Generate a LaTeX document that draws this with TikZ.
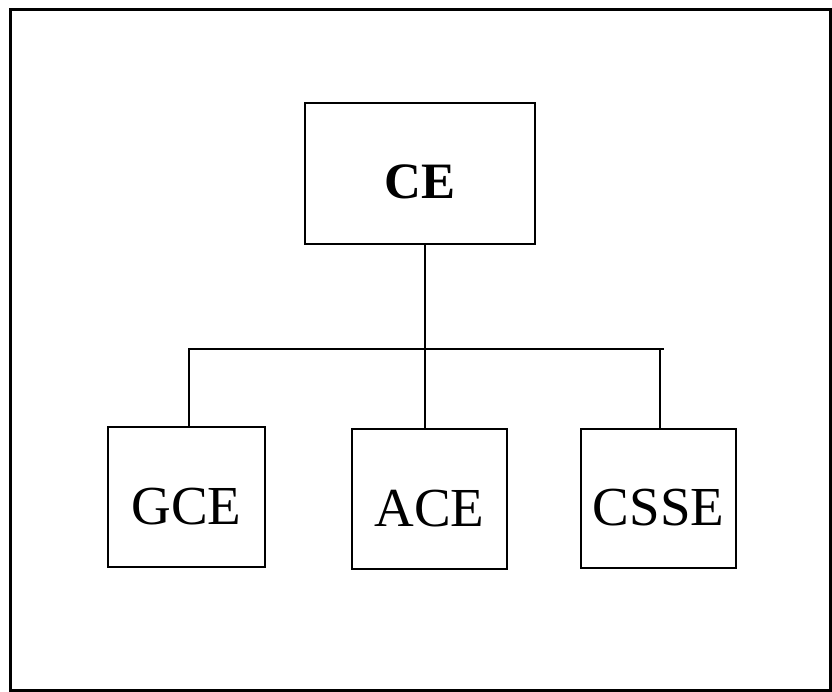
\documentclass[tikz,border=0pt]{standalone}
\usepackage{fontspec}
\setmainfont{Liberation Serif}
\begin{document}
\begin{tikzpicture}[x=1pt,y=-1pt,
  unitbox/.style={draw, line width=2.8pt, rectangle, inner sep=0pt,
    font=\fontsize{55}{60}\selectfont, text height=54pt, text depth=0pt},
  link/.style={line width=2.6pt}]
\useasboundingbox (0,0) rectangle (832,692);
% outer frame
\draw[line width=3pt] (10,10) rectangle (830,690);
% organisation boxes
\node[unitbox, minimum width=230pt, minimum height=141pt,
  font=\fontsize{51}{58}\selectfont\bfseries, text height=51pt] (ce) at (420,173.5) {CE\hspace{16pt}};
\node[unitbox, minimum width=157pt, minimum height=140pt] (gce) at (186.5,497) {GCE};
\node[unitbox, minimum width=155pt, minimum height=140pt] (ace) at (429.5,499) {ACE};
\node[unitbox, minimum width=155pt, minimum height=139pt] (csse) at (658.5,498.5) {CSSE};
% connectors
\coordinate (trunk) at (425,349);
\coordinate (barL) at (189,349);
\coordinate (barR) at (660,349);
\draw[link] (trunk |- ce.south) -- (trunk |- ace.north);
\draw[link] (barL |- gce.north) -- (barL) -- ([xshift=4pt]barR);
\draw[link] (barR) -- (barR |- csse.north);
\end{tikzpicture}
\end{document}
